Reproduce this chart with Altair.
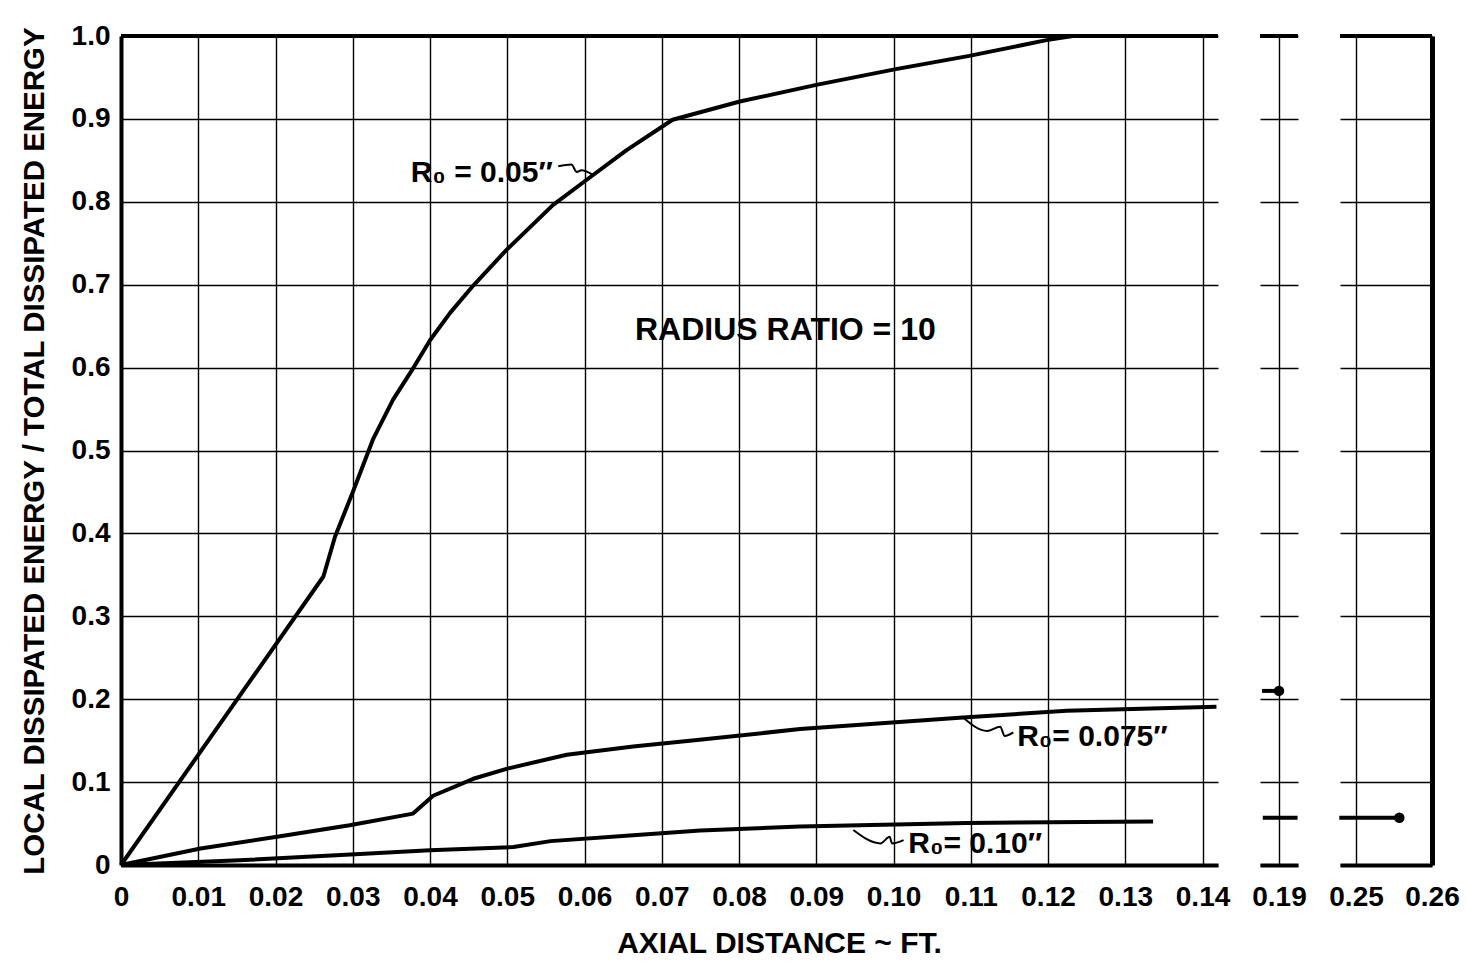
import altair as alt
import pandas as pd

FONT = "Liberation Sans"

# ---------------- data ----------------
x_ticks_main = [0, 0.01, 0.02, 0.03, 0.04, 0.05, 0.06, 0.07, 0.08, 0.09, 0.10, 0.11, 0.12, 0.13, 0.14]
x_ticks_mid = [0.19]
x_ticks_right = [0.25, 0.26]
y_ticks = [0, 0.1, 0.2, 0.3, 0.4, 0.5, 0.6, 0.7, 0.8, 0.9, 1.0]

domain_main = [0, 0.142]
domain_mid = [0.18754, 0.19246]
domain_right = [0.24789, 0.26]

# R0 = 0.05"
r05_x = [0, 0.0262, 0.0277, 0.0301, 0.0326, 0.0352, 0.0376, 0.040, 0.0426, 0.0456, 0.0499,
         0.0559, 0.0602, 0.0654, 0.0714, 0.0801, 0.090, 0.1003, 0.1098, 0.1198, 0.1232, 0.142]
r05_y = [0, 0.348, 0.396, 0.452, 0.513, 0.561, 0.596, 0.633, 0.666, 0.699, 0.742,
         0.796, 0.826, 0.862, 0.899, 0.921, 0.941, 0.960, 0.976, 0.995, 1.0, 1.0]

# R0 = 0.075"
r075_x = [0, 0.0103, 0.0202, 0.0296, 0.0378, 0.0404, 0.0456, 0.0499, 0.0577, 0.0663, 0.0749,
          0.0879, 0.109, 0.1224, 0.1418]
r075_y = [0, 0.020, 0.034, 0.048, 0.062, 0.0835, 0.104, 0.116, 0.133, 0.143, 0.151,
          0.164, 0.178, 0.186, 0.191]

# R0 = 0.10"
r10_x = [0, 0.0146, 0.0297, 0.040, 0.0508, 0.0556, 0.0663, 0.075, 0.0879, 0.1095, 0.1336]
r10_y = [0, 0.0053, 0.0127, 0.0177, 0.0217, 0.0288, 0.036, 0.0415, 0.0464, 0.0506, 0.0526]

# broken-axis panels
mid_r075_x = [0.1878, 0.19]
mid_r075_y = [0.21, 0.21]
mid_r10_x = [0.1879, 0.1924]
mid_r10_y = [0.057, 0.057]
mid_dot_x = [0.19]
mid_dot_y = [0.21]

right_r10_x = [0.2478, 0.2557]
right_r10_y = [0.057, 0.057]
right_dot_x = [0.2557]
right_dot_y = [0.057]

frame_top_y = [1.0]

# annotations
label_texts = ["R\u2080 = 0.05\u2033", "R\u2080= 0.075\u2033", "R\u2080= 0.10\u2033"]
label_x = [0.0375, 0.1160, 0.1019]
label_y = [0.835, 0.155, 0.025]

note_text = ["RADIUS RATIO = 10"]
note_x = [0.086]
note_y = [0.645]

lead05_x = [0.0566, 0.0583, 0.0590, 0.0596, 0.0610]
lead05_y = [0.843, 0.845, 0.836, 0.838, 0.833]
lead075_x = [0.1090, 0.1121, 0.1138, 0.1144, 0.1155]
lead075_y = [0.178, 0.1617, 0.1667, 0.1556, 0.160]
lead10_x = [0.0948, 0.0983, 0.0995, 0.0998, 0.1013]
lead10_y = [0.0423, 0.026, 0.034, 0.026, 0.030]

x_title = "AXIAL DISTANCE ~ FT."
y_title = "LOCAL DISSIPATED ENERGY / TOTAL DISSIPATED ENERGY"


def df(xs, ys, **extra):
    d = pd.DataFrame({"x": xs, "y": ys})
    for k, v in extra.items():
        d[k] = v
    return d


GRID_W = 1.4
LINE_W = 4

label_style = dict(labelFont=FONT, labelFontSize=28, labelFontWeight="bold", labelColor="black",
                   labelFlush=False, labelOverlap=False)


def x_enc(domain, values, with_title=False):
    axis_kw = dict(values=values,
                   labelExpr="datum.value == 0 ? '0' : format(datum.value, '.2f')",
                   grid=True, gridColor="black", gridWidth=GRID_W,
                   domain=True, domainColor="black", domainWidth=4,
                   ticks=False, labelPadding=18, **label_style)
    if with_title:
        axis_kw.update(title=x_title, titleFont=FONT, titleFontSize=30, titleFontWeight="bold",
                       titleColor="black", titleX=658, titleY=78, titleAlign="center",
                       titleBaseline="middle")
    else:
        axis_kw.update(title=None)
    return alt.X("x:Q", scale=alt.Scale(domain=domain, nice=False, zero=False), axis=alt.Axis(**axis_kw))


def y_enc(kind):
    if kind == "main":
        ax = alt.Axis(values=y_ticks,
                      labelExpr="datum.value == 0 ? '0' : format(datum.value, '.1f')",
                      grid=True, gridColor="black", gridWidth=GRID_W,
                      domain=True, domainColor="black", domainWidth=4,
                      ticks=False, labelPadding=11, **label_style,
                      title=y_title, titleFont=FONT, titleFontSize=29.5, titleFontWeight="bold",
                      titleColor="black", titlePadding=22)
    elif kind == "mid":
        ax = alt.Axis(values=y_ticks, labels=False, ticks=False, domain=False,
                      grid=True, gridColor="black", gridWidth=GRID_W, title=None)
    else:
        ax = alt.Axis(values=y_ticks, orient="right", labels=False, ticks=False,
                      domain=True, domainColor="black", domainWidth=5,
                      grid=True, gridColor="black", gridWidth=GRID_W, title=None)
    return alt.Y("y:Q", scale=alt.Scale(domain=[0, 1], nice=False, zero=False), axis=ax)


# ---------------- main panel ----------------
X1 = x_enc(domain_main, x_ticks_main, with_title=True)
Y1 = y_enc("main")

curves = pd.concat([
    df(r05_x, r05_y, s="r05"),
    df(r075_x, r075_y, s="r075"),
    df(r10_x, r10_y, s="r10"),
])
curves["o"] = range(len(curves))

leaders = pd.concat([
    df(lead05_x, lead05_y, s="a"),
    df(lead075_x, lead075_y, s="b"),
    df(lead10_x, lead10_y, s="c"),
])
leaders["o"] = range(len(leaders))

top1 = alt.Chart(pd.DataFrame({"y": frame_top_y})).mark_rule(color="black", strokeWidth=4).encode(y=Y1)

lines1 = alt.Chart(curves).mark_line(color="black", strokeWidth=LINE_W, strokeJoin="round").encode(
    x=X1, y=Y1, detail="s:N", order="o:Q")

lead1 = alt.Chart(leaders).mark_line(color="black", strokeWidth=2, interpolate="monotone").encode(
    x=X1, y=Y1, detail="s:N", order="o:Q")

labels1 = alt.Chart(pd.DataFrame({"x": label_x, "y": label_y, "t": label_texts})).mark_text(
    align="left", baseline="middle", font=FONT, fontSize=30, fontWeight="bold", color="black"
).encode(x=X1, y=Y1, text="t:N")

note1 = alt.Chart(pd.DataFrame({"x": note_x, "y": note_y, "t": note_text})).mark_text(
    align="center", baseline="middle", font=FONT, fontSize=32, fontWeight="bold", color="black"
).encode(x=X1, y=Y1, text="t:N")

main = alt.layer(top1, lines1, lead1, labels1, note1).properties(width=1097, height=829)

# ---------------- middle panel (0.19) ----------------
X2 = x_enc(domain_mid, x_ticks_mid)
Y2 = y_enc("mid")
mid_lines = pd.concat([df(mid_r075_x, mid_r075_y, s="r075"), df(mid_r10_x, mid_r10_y, s="r10")])
top2 = alt.Chart(pd.DataFrame({"y": frame_top_y})).mark_rule(color="black", strokeWidth=4).encode(y=Y2)
lines2 = alt.Chart(mid_lines).mark_line(color="black", strokeWidth=LINE_W).encode(x=X2, y=Y2, detail="s:N")
dots2 = alt.Chart(df(mid_dot_x, mid_dot_y)).mark_circle(color="black", size=110, opacity=1).encode(x=X2, y=Y2)
mid = alt.layer(top2, lines2, dots2).properties(width=38, height=829)

# ---------------- right panel (0.25-0.26) ----------------
X3 = x_enc(domain_right, x_ticks_right)
Y3 = y_enc("right")
top3 = alt.Chart(pd.DataFrame({"y": frame_top_y})).mark_rule(color="black", strokeWidth=4).encode(y=Y3)
lines3 = alt.Chart(df(right_r10_x, right_r10_y)).mark_line(color="black", strokeWidth=LINE_W).encode(x=X3, y=Y3)
dots3 = alt.Chart(df(right_dot_x, right_dot_y)).mark_circle(color="black", size=110, opacity=1).encode(x=X3, y=Y3)
right = alt.layer(top3, lines3, dots3).properties(width=92, height=829)

chart = alt.hconcat(main, mid, right, spacing=42, bounds="flush").properties(
    padding={"left": 19, "top": 22, "right": 5, "bottom": 0},
    background="white",
).configure_view(stroke=None)

chart.save("out.html", embed_options={"renderer": "svg", "actions": False})
